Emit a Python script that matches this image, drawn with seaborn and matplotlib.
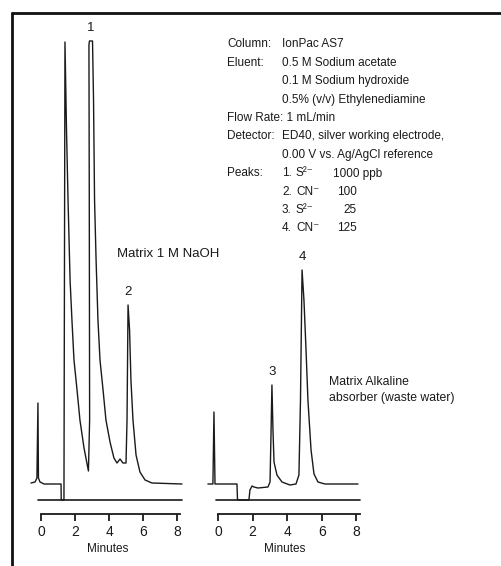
import matplotlib.pyplot as plt
import pandas as pd
import seaborn as sns
from matplotlib.lines import Line2D

# Chromatogram traces (time in minutes, detector response in arbitrary units)
naoh_time = [-0.59, -0.35, -0.24, -0.18, -0.15, -0.06, 0.18, 1.18, 1.19, 1.35, 1.41, 1.50, 1.59,
             1.71, 1.82, 1.94, 2.12, 2.29, 2.53, 2.71, 2.79, 2.86, 2.84, 2.82, 2.85, 3.03, 3.09,
             3.15, 3.24, 3.35, 3.47, 3.65, 3.82, 4.06, 4.29, 4.47, 4.65, 4.82, 5.00, 5.06, 5.12,
             5.21, 5.29, 5.41, 5.59, 5.82, 6.12, 6.53, 8.29]
naoh_signal = [17, 18, 22, 97, 22, 18, 16, 16, 0, 0, 458, 370, 300,
               220, 180, 140, 110, 80, 52, 36, 29, 80, 300, 455, 459, 459, 400,
               300, 240, 180, 140, 110, 80, 58, 42, 37, 41, 37, 37, 80, 195,
               170, 120, 80, 45, 28, 20, 17, 16]

waste_time = [-0.58, -0.29, -0.23, -0.17, 1.10, 1.13, 1.79, 1.85, 1.97, 2.08, 2.31, 2.89, 3.01,
              3.06, 3.12, 3.18, 3.24, 3.41, 3.70, 4.16, 4.51, 4.68, 4.77, 4.86, 4.97, 5.09,
              5.20, 5.38, 5.55, 5.78, 6.18, 8.09]
waste_signal = [16, 16, 88, 16, 16, 0, 0, 10, 14, 13, 12, 13, 18,
                60, 115, 70, 38, 25, 18, 15, 16, 25, 100, 230, 200, 150,
                100, 50, 26, 18, 16, 16]

minute_ticks = [0, 2, 4, 6, 8]

naoh_peaks = ['1', '2']
naoh_peak_time = [2.94, 5.12]
naoh_peak_top = [459, 195]
waste_peaks = ['3', '4']
waste_peak_time = [3.12, 4.86]
waste_peak_top = [115, 230]

method_lines = [
    ('Column:', 'IonPac AS7'),
    ('Eluent:', '0.5 M Sodium acetate'),
    ('', '0.1 M Sodium hydroxide'),
    ('', '0.5% (v/v) Ethylenediamine'),
    ('Flow Rate: 1 mL/min', ''),
    ('Detector:', 'ED40, silver working electrode,'),
    ('', '0.00 V vs. Ag/AgCl reference'),
]
peak_rows = [('1.', 'S²⁻', '1000 ppb'), ('2.', 'CN⁻', '100'), ('3.', 'S²⁻', '25'), ('4.', 'CN⁻', '125')]

sns.set_style('white')
plt.rcParams['font.family'] = ['Liberation Sans', 'DejaVu Sans']
ink = '#1a1a1a'

W, H = 502, 566
fig = plt.figure(figsize=(W / 100, H / 100), dpi=100)


def px_text(x, y, s, size=8.5, **kw):
    fig.text(x / W, 1 - y / H, s, fontsize=size, color=ink, va='center', **kw)


def panel(left_px, xlim, df, zero_span):
    ax = fig.add_axes([left_px / W, 52 / H, 158 / W, 484 / H])
    sns.lineplot(data=df, x='time', y='signal', sort=False, estimator=None,
                 color=ink, lw=1.0, ax=ax)
    ax.plot(zero_span, [0, 0], color=ink, lw=1.2)
    ax.set_xlim(*xlim)
    ax.set_ylim(-14, 470)
    for s in ['top', 'right', 'left']:
        ax.spines[s].set_visible(False)
    ax.spines['bottom'].set_bounds(0, 8.2)
    ax.spines['bottom'].set_linewidth(1.3)
    ax.spines['bottom'].set_color(ink)
    ax.set_yticks([])
    ax.set_xticks(minute_ticks)
    ax.tick_params(axis='x', direction='out', length=5, width=1.3, pad=3,
                   labelsize=10, colors=ink, bottom=True)
    ax.set_xlabel('Minutes', fontsize=8.5, labelpad=3, color=ink)
    ax.set_ylabel('')
    ax.patch.set_alpha(0)
    return ax


ax1 = panel(29, (-0.706, 8.588),
            pd.DataFrame({'time': naoh_time, 'signal': naoh_signal}), [-0.18, 8.29])
ax2 = panel(206, (-0.69, 8.44),
            pd.DataFrame({'time': waste_time, 'signal': waste_signal}), [-0.12, 8.2])

for ax, ids, ts, tops in [(ax1, naoh_peaks, naoh_peak_time, naoh_peak_top),
                          (ax2, waste_peaks, waste_peak_time, waste_peak_top)]:
    for i, t, top in zip(ids, ts, tops):
        ax.text(t, top + 13, i, ha='center', va='center', fontsize=9.5, color=ink, clip_on=False)

px_text(117, 254, 'Matrix 1 M NaOH', size=9.5)
px_text(329, 382, 'Matrix Alkaline', size=8.8)
px_text(329, 398, 'absorber (waste water)', size=8.8)

# method block
y = 44
for lab, val in method_lines:
    if lab:
        px_text(227, y, lab)
    if val:
        px_text(282, y, val)
    y += 18.5
px_text(227, y, 'Peaks:')
for num, ion, amt in peak_rows:
    px_text(282, y, num)
    px_text(296, y, ion)
    if amt.endswith('ppb'):
        px_text(333, y, amt)
    else:
        px_text(357, y, amt, ha='right')
    y += 18.3

# scanned frame (top and left edges)
fig.add_artist(Line2D([12 / W, 1], [1 - 13 / H, 1 - 13 / H], color='#111', lw=2))
fig.add_artist(Line2D([12 / W, 12 / W], [1 - 13 / H, 0], color='#111', lw=2))

fig.savefig('out.png', dpi=100)
